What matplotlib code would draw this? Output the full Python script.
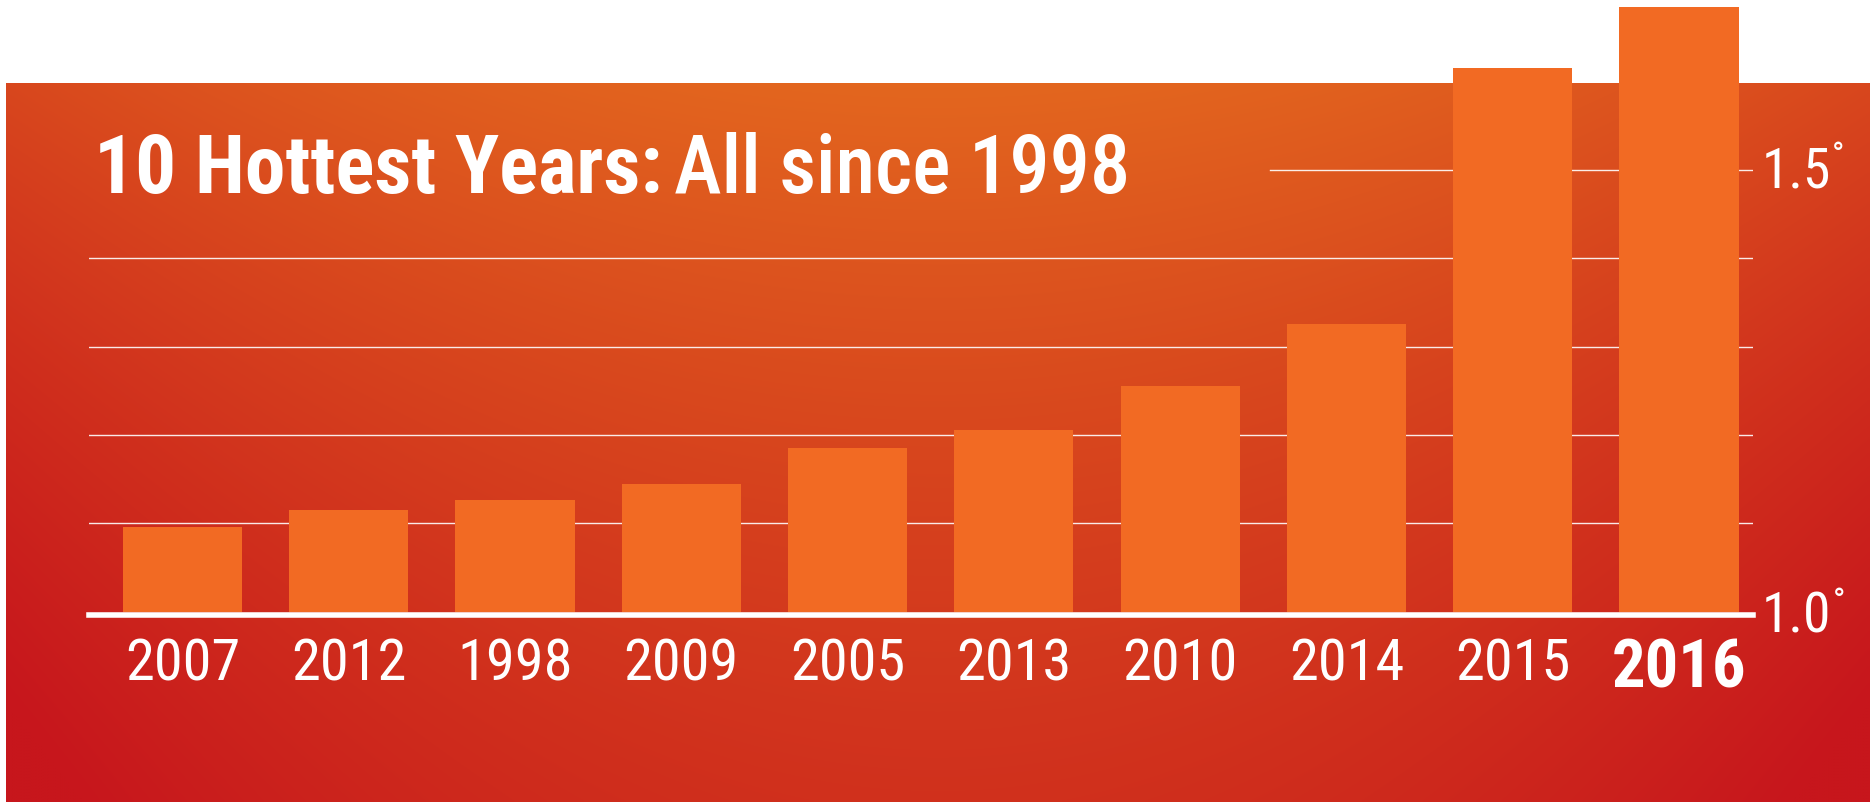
import numpy as np
import matplotlib
matplotlib.use("Agg")
import matplotlib.pyplot as plt
from matplotlib.colors import to_rgb

# ---- data ----
years = ["2007", "2012", "1998", "2009", "2005", "2013", "2010", "2014", "2015", "2016"]
anomaly = [1.096, 1.115, 1.126, 1.145, 1.185, 1.206, 1.256, 1.326, 1.616, 1.685]
grid_values = [1.1, 1.2, 1.3, 1.4, 1.5]
ytick_values = [1.0, 1.5]
ytick_labels = ["1.0", "1.5"]
title_bold = "10 Hottest Years:"
title_rest = "All since 1998"

W, H, DPI = 1870, 803, 100
FONT = ["Roboto Condensed", "Liberation Sans Narrow", "Liberation Sans", "DejaVu Sans"]

fig = plt.figure(figsize=(W / DPI, H / DPI), dpi=DPI, facecolor="white")

# ---- gradient background band ----
band_top = 83.5
bg = fig.add_axes([6 / W, 0, 1 - 6 / W, (H - band_top) / H])
bg.set_axis_off()
ny, nx = 240, 480
yy, xx = np.mgrid[0:1:ny * 1j, 0:1:nx * 1j]
dx = (xx - 0.5) / 0.5
t = 0.03 + 0.9 * yy - 0.25 * yy ** 2 + 0.38 * dx ** 2
t = np.clip(t, 0, 1)
inner = np.array(to_rgb("#e4691f"))
outer = np.array(to_rgb("#c7161c"))
img = inner[None, None, :] * (1 - t[..., None]) + outer[None, None, :] * t[..., None]
bg.imshow(img, aspect="auto", extent=(0, 1, 0, 1), origin="upper", interpolation="bilinear")
bg.set_xlim(0, 1)
bg.set_ylim(0, 1)

# ---- main axes ----
ax_left, ax_right = 89, 1753
base_px = 612.6
px_per_unit = 883.0
ax = fig.add_axes([ax_left / W, (H - base_px) / H, (ax_right - ax_left) / W, base_px / H])
ax.set_facecolor("none")
ax.set_ylim(1.0, 1.0 + base_px / px_per_unit)
ax.set_xlim(-0.562, 9.445)
for s in ax.spines.values():
    s.set_visible(False)

x = np.arange(len(years))
ax.bar(x, np.array(anomaly) - 1.0, bottom=1.0, width=0.716, color="#f26a23", zorder=2)

for g in grid_values:
    xmin = 0.71 if g == 1.5 else 0.0
    ax.axhline(g, xmin=xmin, xmax=1.0, color="white", lw=1.0, zorder=1, alpha=0.9)
# thick white baseline sitting just under the bars
ax.axhline(1.0 - 3.0 / px_per_unit, color="white", lw=4, zorder=3, clip_on=False)

ax.set_yticks([])
ax.set_xticks(x, years)
ax.tick_params(axis="x", length=0, pad=18)
for i, lab in enumerate(ax.get_xticklabels()):
    lab.set_color("white")
    lab.set_family(FONT)
    if years[i] == "2016":
        lab.set_fontsize(48)
        lab.set_fontweight("bold")
    else:
        lab.set_fontsize(42)
        lab.set_fontweight("normal")

for v, lab, off in zip(ytick_values, ytick_labels, [-20, -16]):
    a = ax.annotate(lab, xy=(1.0, v), xycoords=("axes fraction", "data"),
                    xytext=(9, off), textcoords="offset pixels",
                    ha="left", va="baseline", color="white", fontsize=40,
                    fontweight="normal", family=FONT, annotation_clip=False)
    ax.annotate("°", xy=(1.0, 1.0), xycoords=a, xytext=(1, 4), textcoords="offset pixels",
                ha="left", va="top", color="white", fontsize=24, family=FONT,
                annotation_clip=False)

# ---- title ----
t1 = fig.text(94 / W, (H - 193) / H, title_bold, color="white", fontsize=58.5,
              fontweight="bold", family=FONT, ha="left", va="baseline")
fig.canvas.draw()
ax.annotate(title_rest, xy=(1.0, 0.0), xycoords=t1, xytext=(12, 0), textcoords="offset pixels",
            ha="left", va="bottom", color="white", fontsize=58, fontweight="medium",
            family=FONT, annotation_clip=False)

fig.savefig("out.png", dpi=DPI, facecolor="white")
